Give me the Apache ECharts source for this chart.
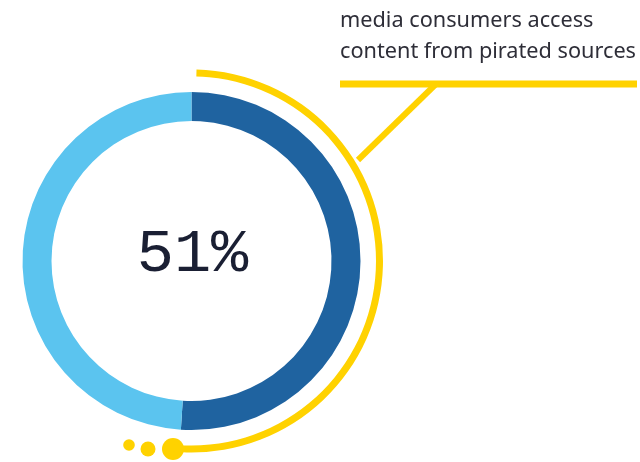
<!DOCTYPE html>
<html><head><meta charset="utf-8">
<script src="https://cdn.jsdelivr.net/npm/echarts@6/dist/echarts.min.js"></script>
<style>html,body{margin:0;padding:0;background:#fff}#c{width:640px;height:462px}</style>
</head><body><div id="c"></div>
<script>
const categories = ['Pirated sources', 'Other'];
const values = [51, 49];
const centerLabel = '51%';
const caption = ['media consumers access', 'content from pirated sources'];
const colors = ['#1f63a0', '#5bc4ef'];
const yellow = '#ffd200';

const chart = echarts.init(document.getElementById('c'), null, {renderer: 'canvas'});
const cx = 191.5, cy = 261;
chart.setOption({
  animation: false,
  series: [
    {
      type: 'pie', center: [cx, cy], radius: [140, 169], startAngle: 90, clockwise: true,
      silent: true, label: {show: false}, labelLine: {show: false},
      data: categories.map((n, i) => ({name: n, value: values[i], itemStyle: {color: colors[i]}}))
    },
    {
      type: 'pie', center: [cx, cy], radius: [184.5, 191.5], startAngle: 88.5, clockwise: true,
      silent: true, label: {show: false}, labelLine: {show: false},
      data: [{value: 184, itemStyle: {color: yellow}}, {value: 176, itemStyle: {color: 'rgba(0,0,0,0)'}}]
    }
  ],
  graphic: [
    {type: 'text', style: {text: centerLabel, x: cx + 1, y: cy - 6, align: 'center', verticalAlign: 'middle', font: 'normal 62px "Liberation Mono", monospace', fill: '#1a1f33'}},
    {type: 'circle', shape: {cx: 173, cy: 449, r: 11}, style: {fill: yellow}},
    {type: 'circle', shape: {cx: 148, cy: 449, r: 7.5}, style: {fill: yellow}},
    {type: 'circle', shape: {cx: 129, cy: 445, r: 5.8}, style: {fill: yellow}},
    {type: 'polyline', shape: {points: [[358, 160], [436, 84]]}, style: {stroke: yellow, lineWidth: 6, fill: null}},
    {type: 'line', shape: {x1: 340, y1: 84, x2: 637, y2: 84}, style: {stroke: yellow, lineWidth: 7}},
    {type: 'text', style: {text: caption[0], x: 340, y: 21, verticalAlign: 'middle', fontFamily: 'Noto Sans', fontSize: 21.7, fill: '#2e2e38'}},
    {type: 'text', style: {text: caption[1], x: 340, y: 52, verticalAlign: 'middle', fontFamily: 'Noto Sans', fontSize: 21.7, fill: '#2e2e38'}}
  ]
});
</script></body></html>
